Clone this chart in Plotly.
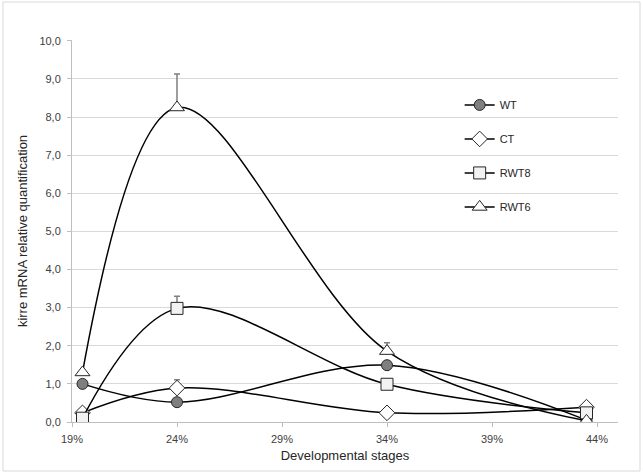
import plotly.graph_objects as go

# developmental stage positions (%)
stages = [19.5, 24, 34, 43.5]
tick_vals = [19, 24, 29, 34, 39, 44]
tick_text = ['19%', '24%', '29%', '34%', '39%', '44%']

wt = [1.0, 0.52, 1.49, 0.05]
ct = [0.24, 0.89, 0.24, 0.39]
rwt8 = [0.1, 2.98, 0.99, 0.24]
rwt6 = [1.3, 8.25, 1.86, 0.03]

# upper error only
ct_err = [0, 0.22, 0, 0]
rwt8_err = [0, 0.32, 0, 0]
rwt6_err = [0, 0.88, 0.22, 0]

font = 'Liberation Sans, Arial, sans-serif'

series = [
    ('WT', wt, None, dict(symbol='circle', size=11, color='#7f7f7f', line=dict(color='#262626', width=1))),
    ('CT', ct, ct_err, dict(symbol='diamond', size=12, color='white', line=dict(color='#262626', width=1))),
    ('RWT8', rwt8, rwt8_err, dict(symbol='square', size=12, color='#f2f2f2', line=dict(color='#262626', width=1))),
    ('RWT6', rwt6, rwt6_err, dict(symbol='triangle-up', size=13, color='white', line=dict(color='#262626', width=1))),
]

fig = go.Figure()
for name, vals, err, marker in series:
    err_y = None
    if err is not None:
        err_y = dict(type='data', symmetric=False, array=err, arrayminus=[0] * len(err),
                     color='#7f7f7f', thickness=1.5, width=3)
    fig.add_trace(go.Scatter(
        x=stages, y=vals, name=name, mode='lines+markers',
        line=dict(color='black', width=1.5, shape='spline', smoothing=1.0),
        marker=marker, error_y=err_y, legendgroup=name,
    ))

fig.update_layout(
    width=643, height=474,
    margin=dict(l=72, r=25, t=40, b=52),
    paper_bgcolor='white', plot_bgcolor='white',
    separators=',.',
    font=dict(family=font, size=11, color='#262626'),
    showlegend=True,
    legend=dict(x=0.71, y=0.868, xanchor='left', yanchor='top',
                bgcolor='rgba(0,0,0,0)', tracegroupgap=15,
                font=dict(size=11), itemwidth=30),
    xaxis=dict(range=[19, 45], tickvals=tick_vals, ticktext=tick_text,
               showgrid=False, zeroline=False, showline=True, linecolor='#bfbfbf',
               ticks='outside', ticklen=4, tickcolor='#bfbfbf', ticklabelstandoff=3,
               tickfont=dict(color='#404040'),
               title=dict(text='Developmental stages', standoff=6)),
    yaxis=dict(range=[0, 10.02], tickvals=list(range(11)), tickformat='.1f',
               showgrid=True, gridcolor='#d9d9d9', zeroline=False,
               showline=True, linecolor='#bfbfbf',
               ticks='outside', ticklen=4, tickcolor='#bfbfbf', ticklabelstandoff=4,
               tickfont=dict(color='#404040'),
               title=dict(text='kirre mRNA relative quantification', standoff=8)),
    shapes=[dict(type='rect', xref='paper', yref='paper',
                 x0=-69 / 546, x1=1 + 22 / 546, y0=-49 / 382, y1=1 + 38 / 382,
                 line=dict(color='#d9d9d9', width=1))],
)

fig.write_html('out.html', config={'displayModeBar': False},
               post_script="document.body.style.margin='0';")
